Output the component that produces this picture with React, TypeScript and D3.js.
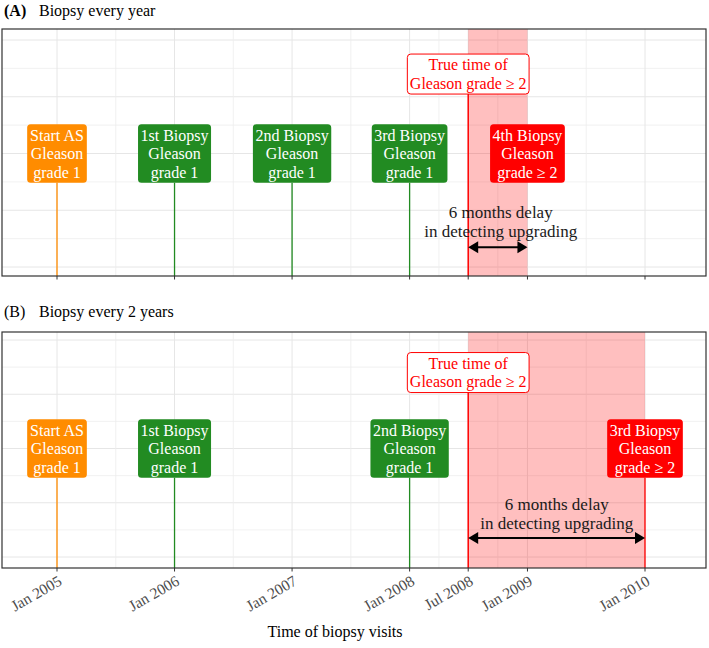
import React from "react";
import * as d3 from "d3";

// ---------- data ----------
const xTickDates = ["2005-01-01", "2006-01-01", "2007-01-01", "2008-01-01", "2008-07-01", "2009-01-01", "2010-01-01"];
const xTickLabels = ["Jan 2005", "Jan 2006", "Jan 2007", "Jan 2008", "Jul 2008", "Jan 2009", "Jan 2010"];

const panelATitleTag = "(A)";
const panelATitle = "Biopsy every year";
const panelAVisitDates = ["2005-01-01", "2006-01-01", "2007-01-01", "2008-01-01", "2009-01-01"];
const panelAVisitNames = ["Start AS", "1st Biopsy", "2nd Biopsy", "3rd Biopsy", "4th Biopsy"];
const panelAVisitGrades = ["grade 1", "grade 1", "grade 1", "grade 1", "grade ≥ 2"];
const panelAVisitKinds = ["start", "biopsy", "biopsy", "biopsy", "upgrade"];
const panelAVisitStems = [true, true, true, true, false];
const panelADetectDate = "2009-01-01";
const panelADelayTextDate = "2008-10-10";

const panelBTitleTag = "(B)";
const panelBTitle = "Biopsy every 2 years";
const panelBVisitDates = ["2005-01-01", "2006-01-01", "2008-01-01", "2010-01-01"];
const panelBVisitNames = ["Start AS", "1st Biopsy", "2nd Biopsy", "3rd Biopsy"];
const panelBVisitGrades = ["grade 1", "grade 1", "grade 1", "grade ≥ 2"];
const panelBVisitKinds = ["start", "biopsy", "biopsy", "upgrade"];
const panelBVisitStems = [true, true, true, true];
const panelBDetectDate = "2010-01-01";
const panelBDelayTextDate = "2009-04-02";

const trueUpgradeDate = "2008-07-01";
const trueUpgradeText = ["True time of", "Gleason grade ≥ 2"];
const delayText = ["6 months delay", "in detecting upgrading"];
const xAxisTitle = "Time of biopsy visits";

const visitLabelY = 4;
const trueLabelY = 6.8;
const arrowY = 0.7;
const delayTextY = 1.6;
const yGridValues = [0, 1, 2, 3, 4, 5, 6, 7, 8];

// ---------- style ----------
const FONT = "'Liberation Serif', 'DejaVu Serif', serif";
const kindColor: Record<string, string> = { start: "#FF8C00", biopsy: "#228B22", upgrade: "#FF0000" };
const RED = "#FF0000";

const parse = (s: string) => new Date(s + "T00:00:00");

let _ctx: CanvasRenderingContext2D | null = null;
function textW(s: string, size: number): number {
  if (!_ctx) {
    const c = document.createElement("canvas");
    _ctx = c.getContext("2d");
  }
  if (!_ctx) return s.length * size * 0.45;
  _ctx.font = `${size}px 'Liberation Serif'`;
  return _ctx.measureText(s).width;
}

const x = d3.scaleTime().domain([parse("2005-01-01"), parse("2010-01-01")]).range([57, 645]);
const plotLeft = 2;
const plotRight = 706;

const tickXs = xTickDates.map((d) => x(parse(d)));
const minorXs = tickXs.slice(1).map((v, i) => (v + tickXs[i]) / 2);

type PanelProps = {
  top: number;
  bottom: number;
  gridTop: number;
  gridBottom: number;
  titleY: number;
  tag: string;
  tagBold: boolean;
  title: string;
  dates: string[];
  names: string[];
  grades: string[];
  kinds: string[];
  stems: boolean[];
  detectDate: string;
  delayTextDate: string;
  showTickLabels: boolean;
};

const LABEL_SIZE = 16;
const LINE_H = 18.5;

function LabelBox({ cx, cy, lines, fill, stroke, color }: { cx: number; cy: number; lines: string[]; fill: string; stroke: string; color: string }) {
  const w = Math.max(...lines.map((l) => textW(l, LABEL_SIZE))) + 5;
  const h = lines.length * LINE_H + 3;
  return (
    <g>
      <rect x={cx - w / 2} y={cy - h / 2} width={w} height={h} rx={3.5} ry={3.5} fill={fill} stroke={stroke} strokeWidth={1} />
      {lines.map((l, i) => (
        <text
          key={i}
          x={cx}
          y={cy + (i - (lines.length - 1) / 2) * LINE_H + 5.5}
          textAnchor="middle"
          fontSize={LABEL_SIZE}
          fill={color}
          style={{ fontFamily: FONT }}
        >
          {l}
        </text>
      ))}
    </g>
  );
}

function Panel(p: PanelProps) {
  const y = d3.scaleLinear().domain([0, 8]).range([p.gridBottom, p.gridTop]);
  const xTrue = x(parse(trueUpgradeDate));
  const xDetect = x(parse(p.detectDate));
  const visitH = 3 * LINE_H + 3;
  const trueH = 2 * LINE_H + 3;
  const ay = y(arrowY);
  const headL = 10;
  const headW = 6;
  return (
    <g>
      <text x={4} y={p.titleY} fontSize={16} style={{ fontFamily: FONT }} fill="#000" fontWeight={p.tagBold ? "bold" : "normal"}>
        {p.tag}
      </text>
      <text x={39} y={p.titleY} fontSize={16} style={{ fontFamily: FONT }} fill="#000">
        {p.title}
      </text>
      <rect x={plotLeft} y={p.top} width={plotRight - plotLeft} height={p.bottom - p.top} fill="#fff" />
      {/* grid */}
      {yGridValues.map((v) => (
        <line key={"h" + v} x1={plotLeft} x2={plotRight} y1={y(v)} y2={y(v)} stroke={v % 2 === 0 ? "#e6e6e6" : "#eeeeee"} strokeWidth={v % 2 === 0 ? 1 : 0.8} />
      ))}
      {minorXs.map((v, i) => (
        <line key={"m" + i} x1={v} x2={v} y1={p.top} y2={p.bottom} stroke="#eeeeee" strokeWidth={0.8} />
      ))}
      {tickXs.map((v, i) => (
        <line key={"M" + i} x1={v} x2={v} y1={p.top} y2={p.bottom} stroke="#e6e6e6" strokeWidth={1} />
      ))}
      {/* shaded delay */}
      <rect x={xTrue} y={p.top} width={xDetect - xTrue} height={p.bottom - p.top} fill={RED} fillOpacity={0.25} />
      {/* stems */}
      {p.dates.map((d, i) =>
        p.stems[i] ? (
          <line
            key={"s" + i}
            x1={x(parse(d))}
            x2={x(parse(d))}
            y1={y(visitLabelY) + visitH / 2}
            y2={p.bottom}
            stroke={kindColor[p.kinds[i]]}
            strokeWidth={1.3}
          />
        ) : null
      )}
      <line x1={xTrue} x2={xTrue} y1={y(trueLabelY) + trueH / 2} y2={p.bottom} stroke={RED} strokeWidth={1.5} />
      {/* labels */}
      {p.dates.map((d, i) => (
        <LabelBox
          key={"l" + i}
          cx={x(parse(d))}
          cy={y(visitLabelY)}
          lines={[p.names[i], "Gleason", p.grades[i]]}
          fill={kindColor[p.kinds[i]]}
          stroke="none"
          color="#fff"
        />
      ))}
      <LabelBox cx={xTrue} cy={y(trueLabelY)} lines={trueUpgradeText} fill="#fff" stroke={RED} color={RED} />
      {/* arrow */}
      <line x1={xTrue + headL - 1} x2={xDetect - headL + 1} y1={ay} y2={ay} stroke="#000" strokeWidth={2} />
      <path d={`M${xTrue},${ay}L${xTrue + headL},${ay - headW}L${xTrue + headL},${ay + headW}Z`} fill="#000" />
      <path d={`M${xDetect},${ay}L${xDetect - headL},${ay - headW}L${xDetect - headL},${ay + headW}Z`} fill="#000" />
      {delayText.map((t, i) => (
        <text
          key={"d" + i}
          x={x(parse(p.delayTextDate))}
          y={y(delayTextY) + (i - 0.5) * 19 + 5.5}
          textAnchor="middle"
          fontSize={17}
          style={{ fontFamily: FONT }}
          fill="#1a1a1a"
        >
          {t}
        </text>
      ))}
      {/* border */}
      <rect x={plotLeft} y={p.top} width={plotRight - plotLeft} height={p.bottom - p.top} fill="none" stroke="#333" strokeWidth={1.2} />
      {/* ticks */}
      {tickXs.map((v, i) => (
        <line key={"t" + i} x1={v} x2={v} y1={p.bottom} y2={p.bottom + 3.5} stroke="#333" strokeWidth={1} />
      ))}
      {p.showTickLabels &&
        tickXs.map((v, i) => (
          <text
            key={"tl" + i}
            transform={`translate(${v + 6},${p.bottom + 16}) rotate(-30)`}
            textAnchor="end"
            fontSize={15.5}
            style={{ fontFamily: FONT }}
            fill="#4d4d4d"
          >
            {xTickLabels[i]}
          </text>
        ))}
    </g>
  );
}

export default function App() {
  return (
    <svg width={709} height={648} style={{ position: "absolute", left: 0, top: 0, background: "#fff" }}>
      <rect x={0} y={0} width={709} height={648} fill="#fff" />
      <Panel
        top={29}
        bottom={276}
        gridTop={40}
        gridBottom={267}
        titleY={16}
        tag={panelATitleTag}
        tagBold={true}
        title={panelATitle}
        dates={panelAVisitDates}
        names={panelAVisitNames}
        grades={panelAVisitGrades}
        kinds={panelAVisitKinds}
        stems={panelAVisitStems}
        detectDate={panelADetectDate}
        delayTextDate={panelADelayTextDate}
        showTickLabels={false}
      />
      <Panel
        top={332}
        bottom={568}
        gridTop={340}
        gridBottom={557}
        titleY={317}
        tag={panelBTitleTag}
        tagBold={false}
        title={panelBTitle}
        dates={panelBVisitDates}
        names={panelBVisitNames}
        grades={panelBVisitGrades}
        kinds={panelBVisitKinds}
        stems={panelBVisitStems}
        detectDate={panelBDetectDate}
        delayTextDate={panelBDelayTextDate}
        showTickLabels={true}
      />
      <text x={335} y={637} textAnchor="middle" fontSize={16} style={{ fontFamily: FONT }} fill="#000">
        {xAxisTitle}
      </text>
    </svg>
  );
}
